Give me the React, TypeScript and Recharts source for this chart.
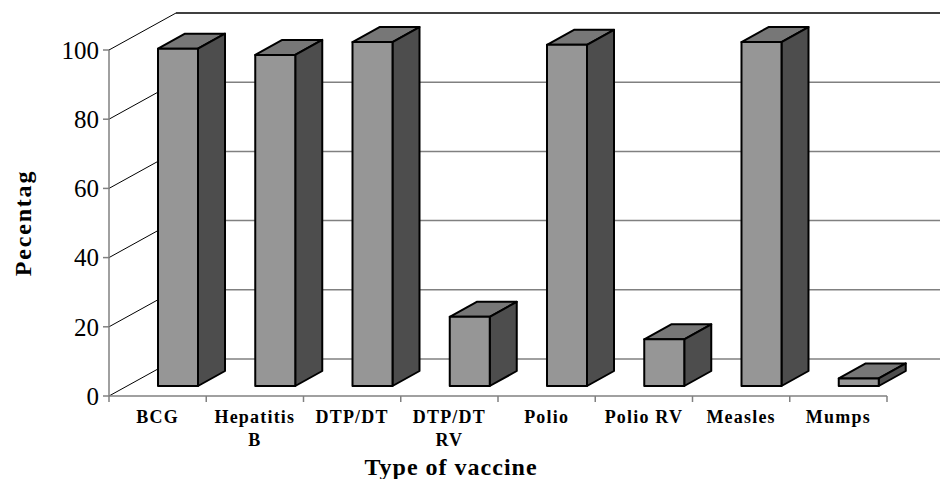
import { BarChart, Bar, XAxis, YAxis, CartesianGrid } from 'recharts'

const categories = ['BCG', 'Hepatitis\nB', 'DTP/DT', 'DTP/DT\nRV', 'Polio', 'Polio RV', 'Measles', 'Mumps']
const coverage = [97.5, 95.7, 99.4, 20.0, 98.6, 13.5, 99.4, 2.2]
const yTicks = [0, 20, 40, 60, 80, 100]

const data = categories.map((name, i) => ({ name, value: coverage[i] }))

// 3d look: wall depth and bar depth offsets
const WALL_DX = 67
const WALL_DY = 37
const BAR_SHIFT_X = 20
const BAR_SHIFT_Y = 10
const BAR_DX = 27
const BAR_DY = 15

const FONT = 'Liberation Serif, Times New Roman, serif'

function Box3D(props: any) {
  const { x, y, width, height } = props
  if (width == null || height == null) return null
  const X = x + BAR_SHIFT_X
  const Y = y - BAR_SHIFT_Y
  const W = width
  const H = height
  const common = { stroke: '#000', strokeWidth: 2, strokeLinejoin: 'round' as const }
  return (
    <g>
      <polygon
        points={`${X},${Y} ${X + BAR_DX},${Y - BAR_DY} ${X + W + BAR_DX},${Y - BAR_DY} ${X + W},${Y}`}
        fill="#777777"
        {...common}
      />
      <polygon
        points={`${X + W},${Y} ${X + W + BAR_DX},${Y - BAR_DY} ${X + W + BAR_DX},${Y + H - BAR_DY} ${X + W},${Y + H}`}
        fill="#4d4d4d"
        {...common}
      />
      <rect x={X} y={Y} width={W} height={H} fill="#969696" {...common} />
    </g>
  )
}

function WallLine(props: any) {
  const { x1, x2, y1, index, y } = props
  const isTop = Math.abs(y1 - y) < 0.5
  return (
    <g key={`wall-${index}`}>
      <line x1={x1} y1={y1} x2={x1 + WALL_DX} y2={y1 - WALL_DY} stroke="#000" strokeWidth={1} />
      <line
        x1={x1 + WALL_DX}
        y1={y1 - WALL_DY}
        x2={x2 + 120}
        y2={y1 - WALL_DY}
        stroke={isTop ? '#000' : '#808080'}
        strokeWidth={1.5}
      />
    </g>
  )
}

function CategoryTick(props: any) {
  const { x, payload, index, width } = props
  const bw = width / categories.length
  const axisY = 396
  const lines = String(payload.value).split('\n')
  return (
    <g>
      <line x1={x - bw / 2} y1={axisY} x2={x - bw / 2} y2={axisY + 6} stroke="#808080" strokeWidth={1.5} />
      {index === categories.length - 1 && (
        <line x1={x + bw / 2} y1={axisY} x2={x + bw / 2} y2={axisY + 6} stroke="#808080" strokeWidth={1.5} />
      )}
      {lines.map((t, i) => (
        <text
          key={i}
          x={x}
          y={axisY + 27 + i * 23}
          textAnchor="middle"
          fontFamily={FONT}
          fontWeight="bold"
          fontSize={18}
          letterSpacing={1.2}
          fill="#000"
        >
          {t}
        </text>
      ))}
    </g>
  )
}

export default function App() {
  return (
    <div style={{ position: 'absolute', left: 0, top: 0, width: 940, height: 479, background: '#fff' }}>
      <BarChart
        width={940}
        height={479}
        data={data}
        margin={{ top: 50, right: 53, left: 49, bottom: 33 }}
        barSize={40}
      >
        <CartesianGrid vertical={false} horizontal={(p: any) => <WallLine {...p} />} />
        <XAxis
          dataKey="name"
          height={50}
          stroke="#808080"
          strokeWidth={1.5}
          tickLine={false}
          interval={0}
          tick={(p: any) => <CategoryTick {...p} />}
          label={{
            value: 'Type of vaccine',
            position: 'bottom',
            dx: -47,
            dy: 7,
            style: { fontFamily: FONT, fontWeight: 'bold', fontSize: 24, letterSpacing: 1, fill: '#000' },
          }}
        />
        <YAxis
          width={60}
          domain={[0, 100]}
          ticks={yTicks}
          interval={0}
          stroke="#808080"
          strokeWidth={1.5}
          tickSize={6}
          tickMargin={4}
          tick={{ fontFamily: FONT, fontSize: 25, fill: '#000' }}
          label={{
            value: 'Pecentag',
            angle: -90,
            position: 'insideLeft',
            dx: -32,
            style: { fontFamily: FONT, fontWeight: 'bold', fontSize: 24, letterSpacing: 1.8, fill: '#000', textAnchor: 'middle' },
          }}
        />
        <Bar dataKey="value" shape={(p: any) => <Box3D {...p} />} isAnimationActive={false} />
      </BarChart>
    </div>
  )
}
